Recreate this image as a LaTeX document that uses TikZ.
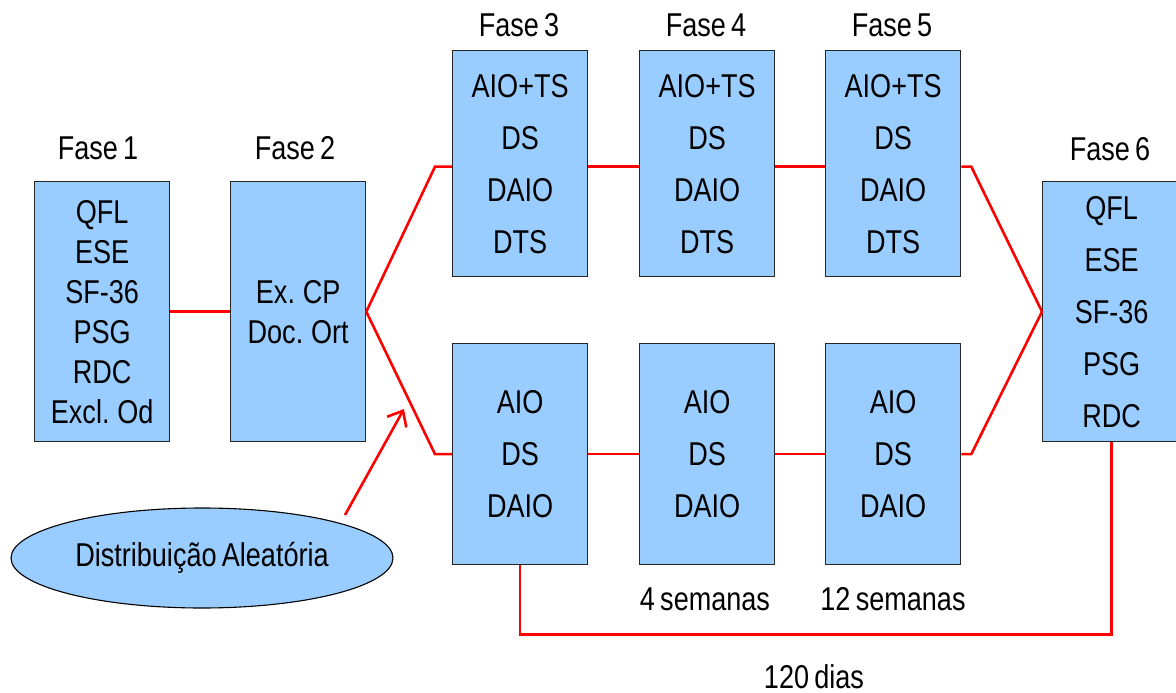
\documentclass[tikz,border=0pt]{standalone}
\usepackage{fontspec}
\setmainfont{Liberation Sans}[FakeStretch=0.82, WordSpace=0.7]
\usetikzlibrary{arrows.meta,shapes.geometric}
\definecolor{boxblue}{HTML}{99CCFF}
\definecolor{linkred}{HTML}{FF0000}

\begin{document}
\begin{tikzpicture}[x=1pt,y=-1pt,
  phase/.style={draw=black!85, line width=1.3pt, fill=boxblue, inner sep=0pt,
    minimum width=135pt, align=center, anchor=north west},
  tall/.style={phase, minimum height=260pt},
  upper/.style={phase, minimum height=226pt, font=\fontsize{33}{52}\selectfont},
  lower/.style={phase, minimum height=221pt, font=\fontsize{33}{52}\selectfont},
  tight/.style={font=\fontsize{33}{40}\selectfont},
  wide/.style={font=\fontsize{33}{52}\selectfont},
  caption/.style={anchor=base, inner sep=0pt, font=\fontsize{33}{36}\selectfont},
  link/.style={draw=linkred, line width=2.6pt},
]
\useasboundingbox (0,0) rectangle (1176,693);

% phase boxes
\node[tall, tight] (f1) at (34,181) {QFL\\ESE\\SF-36\\PSG\\RDC\\Excl. Od};
\node[tall, tight] (f2) at (230,181) {Ex. CP\\Doc. Ort};
\node[upper] (f3t) at (452,50) {AIO+TS\\DS\\DAIO\\DTS};
\node[upper] (f4t) at (639,50) {AIO+TS\\DS\\DAIO\\DTS};
\node[upper] (f5t) at (825,50) {AIO+TS\\DS\\DAIO\\DTS};
\node[lower] (f3b) at (452,343) {AIO\\DS\\DAIO};
\node[lower] (f4b) at (639,343) {AIO\\DS\\DAIO};
\node[lower] (f5b) at (825,343) {AIO\\DS\\DAIO};
\node[tall, wide, minimum width=138pt] (f6) at (1042,181) {QFL\\ESE\\SF-36\\PSG\\RDC};

% phase headings
\node[caption] (h1) at (98,159) {Fase 1};
\node[caption] (h2) at (295,159) {Fase 2};
\node[caption] (h3) at (519,37) {Fase 3};
\node[caption] (h4) at (706,37) {Fase 4};
\node[caption] (h5) at (892,37) {Fase 5};
\node[caption] (h6) at (1110,160) {Fase 6};

% durations
\node[caption] (w4) at (705,610) {4 semanas};
\node[caption] (w12) at (893,610) {12 semanas};
\node[caption] (d120) at (814,688) {120 dias};

% randomisation
\node[ellipse, draw=black, line width=1.1pt, fill=boxblue, minimum width=382pt,
  minimum height=100pt, inner sep=0pt, font=\fontsize{33}{36}\selectfont]
  (rand) at (202,558) {Distribuição Aleatória};
\coordinate (rtail) at (345,515);
\coordinate (rtip) at (404,409);

% connectors
\draw[link] (f1.east) -- (f2.west);
\draw[link] (f2.east) -- ([xshift=-17pt,yshift=-3pt]f3t.west) -- ([yshift=-3pt]f3t.west);
\draw[link] (f2.east) -- ([xshift=-17pt]f3b.west) -- (f3b.west);
\draw[link] ([yshift=-3pt]f3t.east) -- ([yshift=-3pt]f4t.west);
\draw[link] ([yshift=-3pt]f4t.east) -- ([yshift=-3pt]f5t.west);
\draw[link] (f3b.east) -- (f4b.west);
\draw[link] (f4b.east) -- (f5b.west);
\draw[link] ([yshift=-3pt]f5t.east) -- ([xshift=10pt,yshift=-3pt]f5t.east) -- (f6.west);
\draw[link] (f5b.east) -- ([xshift=10pt]f5b.east) -- (f6.west);
\draw[link] (f3b.south) -- ++(0,69) -| (f6.south);
\draw[link, -{Straight Barb[length=13pt,width=22pt,line width=2.6pt]}] (rtail) -- (rtip);
\end{tikzpicture}
\end{document}
